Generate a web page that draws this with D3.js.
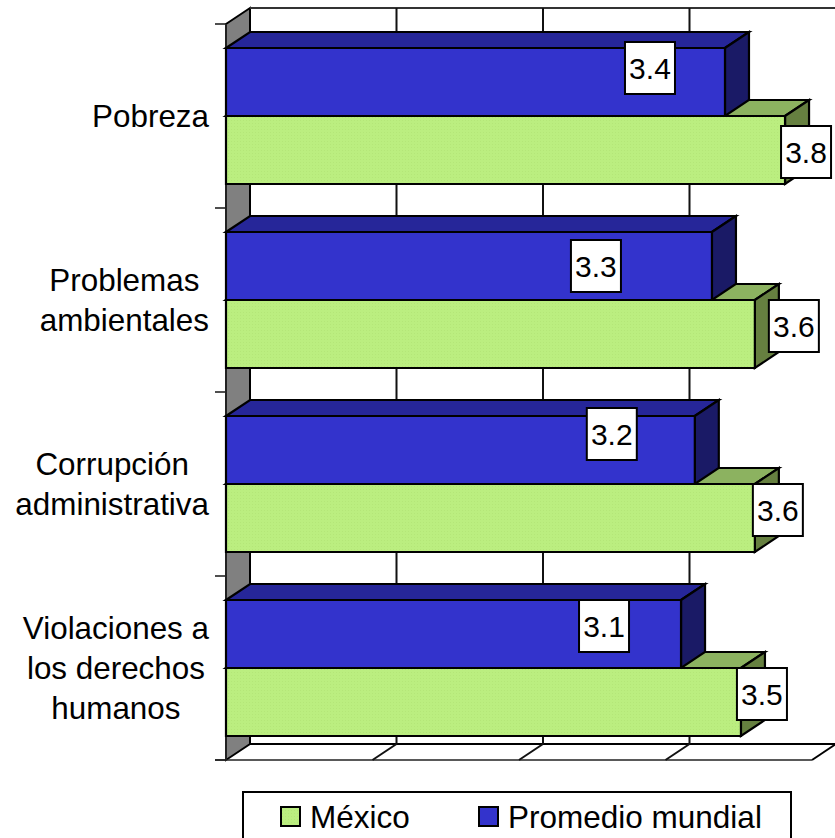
<!DOCTYPE html>
<html>
<head>
<meta charset="utf-8">
<script src="https://cdn.jsdelivr.net/npm/d3@7"></script>
<style>
html,body{margin:0;padding:0;background:#fff;overflow:hidden}
svg{display:block}
text{font-family:"Liberation Sans",Arial,sans-serif;fill:#000}
</style>
</head>
<body>
<script>
const categories = [["Pobreza"],["Problemas","ambientales"],["Corrupción","administrativa"],["Violaciones a","los derechos","humanos"]];
const categoryKeys = ["Pobreza","Problemas ambientales","Corrupción administrativa","Violaciones a los derechos humanos"];
const mexico = [3.816,3.61,3.61,3.515];
const promedio = [3.406,3.317,3.2,3.106];
const seriesNames = ["México","Promedio mundial"];
const valueTicks = [0,1,2,3,4];

// label placement, as hand-moved in the original (px from the default spot)
const mexicoLabelNudge = [[21,10],[39,0],[23,0],[21,0]];
const promedioLabelNudge = [[-75,-6],[-116,8],[-83,-8],[-77,0]];

const W=835,H=838, dx=24, dy=-16;
const C={blue:"#3333CC",blueTop:"#262699",blueSide:"#1A1A66",
         green:"#BBEE80",greenTop:"#8CB260",greenSide:"#668040",wall:"#808080"};

const x=d3.scaleLinear().domain([0,4]).range([226,812]);
const y=d3.scaleBand().domain(categoryKeys).range([24,760]).paddingInner(48/184).paddingOuter(24/184);
const barH=y.bandwidth()/2;
const step=y.step();

const svg=d3.select("body").append("svg").attr("width",W).attr("height",H);
const pat=svg.append("defs").append("pattern").attr("id","dots").attr("width",3).attr("height",3).attr("patternUnits","userSpaceOnUse");
pat.append("rect").attr("width",3).attr("height",3).attr("fill",C.green);
pat.append("rect").attr("width",1).attr("height",1).attr("fill","#B4E678");
const greenFill="url(#dots)";

const x0=x(0), yT=24, yB=760;
const pts=a=>a.map(p=>p.join(",")).join(" ");

// side wall
svg.append("polygon").attr("points",pts([[x0,yT],[x0+dx,yT+dy],[x0+dx,yB+dy],[x0,yB]]))
  .attr("fill",C.wall).attr("stroke","#000").attr("stroke-width",2);
// top back line
svg.append("line").attr("x1",x0+dx).attr("x2",W).attr("y1",yT+dy).attr("y2",yT+dy).attr("stroke","#333").attr("stroke-width",2);
// floor
svg.append("line").attr("x1",x0+dx).attr("x2",x(4)+dx).attr("y1",yB+dy).attr("y2",yB+dy).attr("stroke","#000").attr("stroke-width",2);
svg.append("line").attr("x1",x(4)).attr("x2",x(4)+dx).attr("y1",yB).attr("y2",yB+dy).attr("stroke","#000").attr("stroke-width",2);
svg.append("line").attr("x1",x0-11).attr("x2",x(4)).attr("y1",yB).attr("y2",yB).attr("stroke","#222").attr("stroke-width",1.6);
// gridlines + floor diagonals
valueTicks.slice(1,4).forEach(t=>{
  svg.append("line").attr("x1",x(t)+dx).attr("x2",x(t)+dx).attr("y1",yT+dy).attr("y2",yB+dy).attr("stroke","#111").attr("stroke-width",2);
  svg.append("line").attr("x1",x(t)).attr("x2",x(t)+dx).attr("y1",yB).attr("y2",yB+dy).attr("stroke","#111").attr("stroke-width",2);
});
// category axis line + ticks
svg.append("line").attr("x1",x0).attr("x2",x0).attr("y1",yT).attr("y2",yB).attr("stroke","#222").attr("stroke-width",2);
d3.range(categoryKeys.length+1).forEach(i=>{
  const ty=yT+i*step;
  svg.append("line").attr("x1",x0-11).attr("x2",x0).attr("y1",ty).attr("y2",ty).attr("stroke","#222").attr("stroke-width",1.6);
});

const sw={stroke:"#000","stroke-width":2.2,"stroke-linejoin":"miter"};
function poly(a,fill){const p=svg.append("polygon").attr("points",pts(a)).attr("fill",fill);Object.entries(sw).forEach(([k,v])=>p.attr(k,v));return p;}

categoryKeys.forEach((k,i)=>{
  const topB=y(k), topG=topB+barH, xB=x(promedio[i]), xG=x(mexico[i]);
  // green top + side
  poly([[x0,topG],[x0+dx,topG+dy],[xG+dx,topG+dy],[xG,topG]],C.greenTop);
  poly([[xG,topG],[xG+dx,topG+dy],[xG+dx,topG+barH+dy],[xG,topG+barH]],C.greenSide);
  // blue bar
  poly([[x0,topB],[x0+dx,topB+dy],[xB+dx,topB+dy],[xB,topB]],C.blueTop);
  poly([[xB,topB],[xB+dx,topB+dy],[xB+dx,topB+barH+dy],[xB,topB+barH]],C.blueSide);
  poly([[x0,topB],[xB,topB],[xB,topB+barH],[x0,topB+barH]],C.blue);
  // green front
  poly([[x0,topG],[xG,topG],[xG,topG+barH],[x0,topG+barH]],greenFill);
});

// category labels
const catG=svg.append("g").attr("font-size",31.4);
categories.forEach((lines,i)=>{
  const cy=y(categoryKeys[i])+barH;
  const g=catG.append("g");
  const ts=lines.map((l,j)=>g.append("text").attr("text-anchor","middle")
     .attr("y",cy+10.5+(j-(lines.length-1)/2)*40).text(l));
  const maxW=d3.max(ts,t=>t.node().getComputedTextLength());
  ts.forEach(t=>t.attr("x",209-maxW/2));
});

// data labels
const fmt=d3.format(".1f"), boxW=50, boxH=52;
function label(v,barTop,nudge){
  const bx=x(v)+nudge[0]-boxW/2, by=barTop+nudge[1];
  svg.append("rect").attr("x",bx).attr("y",by).attr("width",boxW).attr("height",boxH)
    .attr("fill","#fff").attr("stroke","#000").attr("stroke-width",2);
  svg.append("text").attr("x",bx+boxW/2).attr("y",by+boxH/2+10.5).attr("text-anchor","middle")
    .attr("font-size",30).text(fmt(v));
}
categoryKeys.forEach((k,i)=>{
  label(promedio[i],y(k),promedioLabelNudge[i]);
  label(mexico[i],y(k)+barH,mexicoLabelNudge[i]);
});

// legend
svg.append("rect").attr("x",243).attr("y",792).attr("width",548).attr("height",H-792+10)
  .attr("fill","#fff").attr("stroke","#000").attr("stroke-width",2);
const lg=[{x:281,f:greenFill},{x:479,f:C.blue}];
seriesNames.forEach((n,i)=>{
  svg.append("rect").attr("x",lg[i].x).attr("y",807).attr("width",19).attr("height",19)
    .attr("fill",lg[i].f).attr("stroke","#000").attr("stroke-width",2);
  svg.append("text").attr("x",lg[i].x+29).attr("y",828).attr("font-size",31.5).text(n);
});
</script>
</body>
</html>
